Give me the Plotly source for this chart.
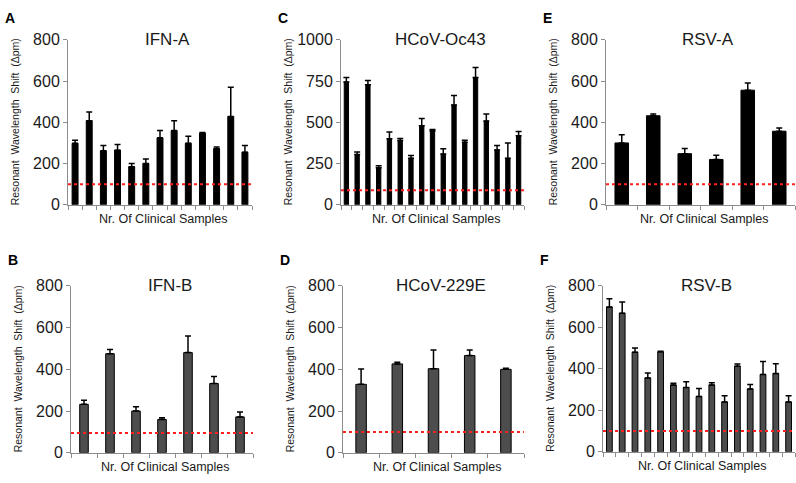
import plotly.graph_objects as go

# values (bar height, upper error)
ifn_a_vals = [298, 408, 262, 265, 185, 200, 325, 360, 298, 348, 272, 428, 255]
ifn_a_err = [15, 42, 26, 27, 15, 22, 35, 48, 34, 3, 8, 142, 33]

hcov_oc43_vals = [745, 305, 728, 225, 400, 390, 282, 480, 448, 308, 605, 380, 772, 508, 333, 282, 418]
hcov_oc43_err = [27, 15, 25, 12, 42, 12, 17, 43, 8, 32, 58, 12, 60, 42, 27, 93, 26]

rsv_a_vals = [300, 432, 248, 220, 556, 357]
rsv_a_err = [40, 8, 25, 20, 35, 15]

ifn_b_vals = [232, 475, 200, 160, 480, 332, 172]
ifn_b_err = [20, 20, 20, 8, 80, 33, 23]

hcov_229e_vals = [328, 426, 403, 466, 400]
hcov_229e_err = [74, 8, 90, 27, 5]

rsv_b_vals = [698, 668, 480, 356, 482, 322, 310, 267, 322, 240, 413, 303, 373, 377, 240]
rsv_b_err = [40, 54, 20, 24, 3, 8, 28, 38, 11, 30, 10, 22, 62, 48, 30]

thresholds = [100, 88, 100, 95, 100, 100]
titles = ["IFN-A", "HCoV-Oc43", "RSV-A", "IFN-B", "HCoV-229E", "RSV-B"]
letters = ["A", "C", "E", "B", "D", "F"]

W, H = 796, 483
FONT = "Arial, Liberation Sans, sans-serif"

panels = [
    dict(vals=ifn_a_vals, err=ifn_a_err, x=(68, 252), y=(33, 204), ymax=800, dt=200, col="#000000", bw=0.42),
    dict(vals=hcov_oc43_vals, err=hcov_oc43_err, x=(341, 524), y=(33, 204), ymax=1000, dt=250, col="#000000", bw=0.4),
    dict(vals=rsv_a_vals, err=rsv_a_err, x=(606, 795), y=(33, 204), ymax=800, dt=200, col="#000000", bw=0.43),
    dict(vals=ifn_b_vals, err=ifn_b_err, x=(71, 253), y=(288, 461), ymax=800, dt=200, col="#4d4d4d", bw=0.33),
    dict(vals=hcov_229e_vals, err=hcov_229e_err, x=(343, 524), y=(288, 461), ymax=800, dt=200, col="#4d4d4d", bw=0.29),
    dict(vals=rsv_b_vals, err=rsv_b_err, x=(603, 795), y=(288, 460), ymax=800, dt=200, col="#4d4d4d", bw=0.45),
]

fig = go.Figure()
layout = {}
annotations = []
shapes = []

for i, p in enumerate(panels):
    k = "" if i == 0 else str(i + 1)
    n = len(p["vals"])
    xs = list(range(1, n + 1))
    fig.add_trace(go.Bar(x=xs, y=p["vals"], width=p["bw"], xaxis="x" + k, yaxis="y" + k,
                         marker=dict(color=p["col"], line=dict(color="#000000", width=1)),
                         error_y=dict(type="data", array=p["err"], symmetric=False, arrayminus=[0] * n,
                                      color="#000000", thickness=1.5, width=3),
                         showlegend=False))
    x0, x1 = p["x"][0] / W, p["x"][1] / W
    y0, y1 = 1 - p["y"][1] / H, 1 - p["y"][0] / H
    layout["xaxis" + k] = dict(domain=[x0, x1], anchor="y" + k, range=[0.5, n + 0.5],
                               tickvals=[j + 0.5 for j in range(n + 1)], showticklabels=False,
                               ticks="outside", ticklen=4, tickcolor="#8c8c8c",
                               showline=True, linecolor="#8c8c8c", linewidth=1,
                               showgrid=False, zeroline=False, fixedrange=True)
    layout["yaxis" + k] = dict(domain=[y0, y1], anchor="x" + k, range=[0, p["ymax"]],
                               tickvals=list(range(0, p["ymax"] + 1, p["dt"])),
                               ticks="outside", ticklen=4, tickcolor="#8c8c8c",
                               tickfont=dict(size=16, color="#1a1a1a", family=FONT),
                               showline=True, linecolor="#8c8c8c", linewidth=1,
                               showgrid=False, zeroline=False, fixedrange=True)
    shapes.append(dict(type="line", xref="x" + k + " domain", yref="y" + k, x0=0, x1=1,
                       y0=thresholds[i], y1=thresholds[i],
                       line=dict(color="#ff2020", width=2, dash="dot")))
    # panel title
    annotations.append(dict(text=titles[i], xref="paper", yref="paper", x=(x0 + x1) / 2 + 0.01, y=y1,
                            showarrow=False, xanchor="center", yanchor="middle",
                            font=dict(size=17, color="#1a1a1a", family=FONT)))
    # x title
    annotations.append(dict(text="Nr. Of Clinical Samples", xref="paper", yref="paper",
                            x=(x0 + x1) / 2 + 0.005, y=y0 - 15 / H, showarrow=False,
                            xanchor="center", yanchor="middle",
                            font=dict(size=12.5, color="#1a1a1a", family=FONT)))
    # y title
    annotations.append(dict(text="Resonant  Wavelength  Shift  (Δpm)", xref="paper", yref="paper",
                            x=(p["x"][0] - 53) / W, y=(y0 + y1) / 2, textangle=-90, showarrow=False,
                            xanchor="center", yanchor="middle",
                            font=dict(size=10.5, color="#1a1a1a", family=FONT)))
    # panel letter
    annotations.append(dict(text="<b>" + letters[i] + "</b>", xref="paper", yref="paper",
                            x=(p["x"][0] - 65) / W, y=1 - (10 if i < 3 else 261) / H, showarrow=False,
                            xanchor="left", yanchor="middle",
                            font=dict(size=14, color="#000000", family=FONT)))

fig.update_layout(width=W, height=H, margin=dict(l=0, r=0, t=0, b=0),
                  paper_bgcolor="white", plot_bgcolor="white",
                  annotations=annotations, shapes=shapes, **layout)

fig.write_html("out.html", config={"displayModeBar": False},
               post_script="document.body.style.margin='0';")
